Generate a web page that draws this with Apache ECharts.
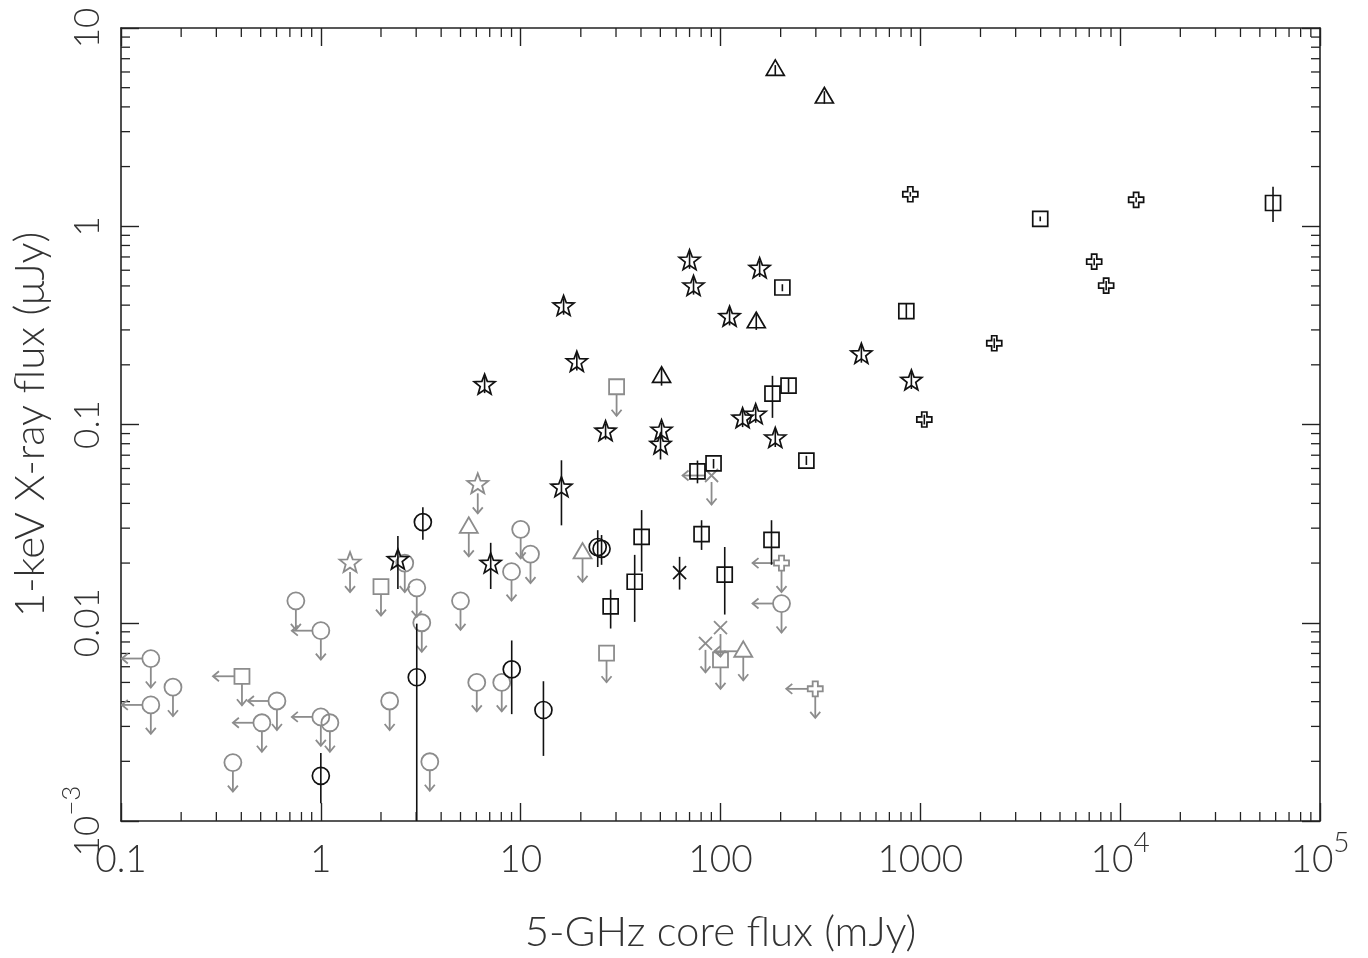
<!DOCTYPE html>
<html><head><meta charset="utf-8">
<script src="https://cdn.jsdelivr.net/npm/echarts@6/dist/echarts.min.js"></script>
<style>html,body{margin:0;padding:0;background:#fff}#c{width:1368px;height:958px}</style>
</head><body><div id="c"></div>
<script>
// ---- axis tick labels ----
const xTicks = [0.1, 1, 10, 100, 1000, 1e4, 1e5];
const xTickLabels = ['{b|0.1}', '{b|1}', '{b|10}', '{b|100}', '{b|1000}', '{b|10}{sup|4}', '{b|10}{sup|5}'];
const yTicks = [0.001, 0.01, 0.1, 1, 10];
const yTickLabels = ['{b|10}{sup|\u22123}', '{b|0.01}', '{b|0.1}', '{b|1}', '{b|10}'];
const minorMantissas = [2, 3, 4, 5, 6, 7, 8, 9];
const xDecades = [0.1, 1, 10, 100, 1000, 1e4];
const yDecades = [0.001, 0.01, 0.1, 1];

// ---- detections: [core flux mJy, X-ray flux uJy, yLow, yHigh] ----
const blackStars = [
  [16.4, 0.394, 0.358, 0.433], [19.1, 0.206, 0.187, 0.227], [6.6, 0.158, 0.144, 0.174],
  [70, 0.67, 0.61, 0.74], [73.3, 0.497, 0.452, 0.547], [157, 0.61, 0.555, 0.67],
  [111, 0.348, 0.316, 0.383], [26.6, 0.092, 0.084, 0.101], [50.7, 0.093, 0.085, 0.102],
  [50.1, 0.079, 0.0666, 0.091], [129, 0.107, 0.097, 0.118], [150, 0.112, 0.102, 0.123],
  [188, 0.085, 0.077, 0.094], [507, 0.226, 0.205, 0.249], [902, 0.166, 0.151, 0.183],
  [16.0, 0.048, 0.031, 0.066], [2.43, 0.0207, 0.0148, 0.0274], [7.08, 0.0198, 0.0148, 0.0253]
];
const blackTriangles = [
  [188, 6.15, 5.8, 6.5], [331, 4.46, 4.15, 4.8], [151, 0.328, 0.30, 0.36], [50.7, 0.174, 0.157, 0.193]
];
const blackCircles = [
  [3.24, 0.0322, 0.0262, 0.0383], [24.3, 0.0241, 0.0191, 0.0293], [25.4, 0.0236, 0.0196, 0.0277],
  [3.02, 0.00531, 0.001, 0.0099], [9.02, 0.00582, 0.00346, 0.00814], [13.0, 0.00363, 0.00213, 0.00507],
  [1.0, 0.00169, 0.00123, 0.0022]
];
const blackSquares = [
  [204, 0.491, 0.47, 0.51], [851, 0.373, 0.34, 0.41], [3981, 1.09, 1.06, 1.12],
  [58200, 1.31, 1.05, 1.58], [219, 0.157, 0.145, 0.17], [182, 0.143, 0.108, 0.176],
  [269, 0.0658, 0.0625, 0.0695], [92.3, 0.0636, 0.060, 0.067], [76.7, 0.058, 0.0505, 0.0658],
  [40.3, 0.0271, 0.0181, 0.037], [37.2, 0.0161, 0.0101, 0.022], [28.2, 0.0121, 0.00935, 0.0147],
  [80.4, 0.028, 0.0233, 0.0329], [180, 0.0262, 0.0196, 0.0329], [105, 0.0175, 0.011, 0.0241]
];
const blackCrossesX = [[62.4, 0.0179, 0.0147, 0.0215]];
const blackPluses = [
  [891, 1.45, 1.41, 1.49], [12020, 1.36, 1.32, 1.40], [7413, 0.663, 0.635, 0.69],
  [8510, 0.502, 0.475, 0.53], [2344, 0.257, 0.243, 0.272], [1047, 0.106, 0.10, 0.112]
];

// ---- upper limits: [core flux, X-ray flux, also upper limit in core flux (1/0)] ----
const grayCircles = [
  [0.141, 0.0066, 1], [0.141, 0.00385, 1], [0.182, 0.00473, 0], [0.363, 0.00197, 0],
  [0.507, 0.00313, 1], [0.603, 0.00403, 1], [0.75, 0.0129, 0], [1.0, 0.00912, 1],
  [1.0, 0.00335, 1], [1.11, 0.00313, 0], [2.21, 0.00403, 0], [2.63, 0.020, 0],
  [3.02, 0.0150, 0], [3.2, 0.0100, 0], [3.51, 0.00199, 0], [5.0, 0.0129, 0],
  [6.03, 0.0050, 0], [8.04, 0.0050, 0], [9.0, 0.0181, 0], [10, 0.0296, 0],
  [11.2, 0.0222, 0], [202, 0.0125, 1]
];
const graySquares = [
  [0.403, 0.00537, 1], [2.0, 0.0152, 0], [30.2, 0.155, 0], [26.9, 0.00702, 0], [100, 0.0065, 0]
];
const grayCrossesX = [[90.2, 0.0553, 1], [100, 0.00946, 0], [84.1, 0.00787, 0]];
const grayTriangles = [[5.5, 0.0303, 0], [20.4, 0.0225, 0], [130, 0.00718, 1]];
const grayStars = [[1.40, 0.020, 0], [6.1, 0.0499, 0]];
const grayPluses = [[202, 0.020, 1], [298, 0.00464, 1]];

const BLACK = '#111';
const GRAY = '#8c8c8c';
const FONT = 'Lato';
const TXT = '#333';

function starPoints(cx, cy, ro, ri) {
  const pts = [];
  for (let i = 0; i < 10; i++) {
    const a = -Math.PI / 2 + i * Math.PI / 5;
    const r = i % 2 ? ri : ro;
    pts.push([cx + r * Math.cos(a), cy + r * Math.sin(a)]);
  }
  return pts;
}
function plusPoints(cx, cy, a, b) {
  const p = [[-b,-a],[b,-a],[b,-b],[a,-b],[a,b],[b,b],[b,a],[-b,a],[-b,b],[-a,b],[-a,-b],[-b,-b]];
  return p.map(q => [cx + q[0], cy + q[1]]);
}
const EDGE = {circle: 8.5, square: 7.5, triangle: 5.5, star: 9, plus: 7.5, x: 6.5};
const LEDGE = {circle: 8.5, square: 7.5, triangle: 6, star: 8, plus: 7.5, x: 6.5};

function marker(shape, cx, cy, color, lw) {
  const st = {fill: 'none', stroke: color, lineWidth: lw};
  switch (shape) {
    case 'circle': return {type: 'circle', shape: {cx, cy, r: 8.5}, style: st};
    case 'square': return {type: 'rect', shape: {x: cx - 7.5, y: cy - 7.5, width: 15, height: 15}, style: st};
    case 'triangle': return {type: 'polygon', shape: {points: [[cx, cy - 10], [cx - 9, cy + 5.5], [cx + 9, cy + 5.5]]}, style: st};
    case 'star': return {type: 'polygon', shape: {points: starPoints(cx, cy, 11, 4.6)}, style: st};
    case 'plus': return {type: 'polygon', shape: {points: plusPoints(cx, cy, 7.5, 2.6)}, style: st};
    case 'x': return {type: 'group', children: [
      {type: 'line', shape: {x1: cx - 6.5, y1: cy - 6.5, x2: cx + 6.5, y2: cy + 6.5}, style: st},
      {type: 'line', shape: {x1: cx - 6.5, y1: cy + 6.5, x2: cx + 6.5, y2: cy - 6.5}, style: st}]};
  }
}

function detSeries(data, shape) {
  return {
    type: 'custom', coordinateSystem: 'cartesian2d', data: data, silent: true, clip: false,
    encode: {x: 0, y: 1},
    renderItem: function (params, api) {
      const x = api.value(0);
      const p = api.coord([x, api.value(1)]);
      const a = api.coord([x, api.value(2)]);
      const b = api.coord([x, api.value(3)]);
      return {type: 'group', children: [
        {type: 'line', shape: {x1: p[0], y1: a[1], x2: p[0], y2: b[1]}, style: {stroke: BLACK, lineWidth: 1.6}},
        marker(shape, p[0], p[1], BLACK, 1.7)
      ]};
    }
  };
}

function limSeries(data, shape) {
  return {
    type: 'custom', coordinateSystem: 'cartesian2d', data: data, silent: true, clip: false,
    encode: {x: 0, y: 1},
    renderItem: function (params, api) {
      const p = api.coord([api.value(0), api.value(1)]);
      const cx = p[0], cy = p[1];
      const st = {stroke: GRAY, lineWidth: 1.8, fill: 'none'};
      const ch = [];
      const e = EDGE[shape];
      ch.push({type: 'line', shape: {x1: cx, y1: cy + e, x2: cx, y2: cy + 29}, style: st});
      ch.push({type: 'polyline', shape: {points: [[cx - 5, cy + 23], [cx, cy + 29], [cx + 5, cy + 23]]}, style: st});
      if (api.value(2)) {
        const le = LEDGE[shape];
        ch.push({type: 'line', shape: {x1: cx - le, y1: cy, x2: cx - 29, y2: cy}, style: st});
        ch.push({type: 'polyline', shape: {points: [[cx - 23, cy - 5], [cx - 29, cy], [cx - 23, cy + 5]]}, style: st});
      }
      ch.push(marker(shape, cx, cy, GRAY, 1.8));
      return {type: 'group', children: ch};
    }
  };
}

const minorX = [];
xDecades.forEach(d => minorMantissas.forEach(m => minorX.push([d * m, 1])));
const minorY = [];
yDecades.forEach(d => minorMantissas.forEach(m => minorY.push([1, d * m])));

function minorXSeries() {
  return {type: 'custom', coordinateSystem: 'cartesian2d', data: minorX, silent: true, clip: false,
    encode: {x: 0, y: 1},
    renderItem: function (params, api) {
      const cs = params.coordSys;
      const px = api.coord([api.value(0), 1])[0];
      const st = {stroke: '#222', lineWidth: 1.3};
      return {type: 'group', children: [
        {type: 'line', shape: {x1: px, y1: cs.y + cs.height, x2: px, y2: cs.y + cs.height - 9}, style: st},
        {type: 'line', shape: {x1: px, y1: cs.y, x2: px, y2: cs.y + 9}, style: st}]};
    }};
}
function minorYSeries() {
  return {type: 'custom', coordinateSystem: 'cartesian2d', data: minorY, silent: true, clip: false,
    encode: {x: 0, y: 1},
    renderItem: function (params, api) {
      const cs = params.coordSys;
      const py = api.coord([1, api.value(1)])[1];
      const st = {stroke: '#222', lineWidth: 1.3};
      return {type: 'group', children: [
        {type: 'line', shape: {x1: cs.x, y1: py, x2: cs.x + 9, y2: py}, style: st},
        {type: 'line', shape: {x1: cs.x + cs.width, y1: py, x2: cs.x + cs.width - 9, y2: py}, style: st}]};
    }};
}

function labelFor(ticks, labels) {
  return function (v) {
    for (let i = 0; i < ticks.length; i++) {
      if (Math.abs(Math.log10(v) - Math.log10(ticks[i])) < 1e-6) return labels[i];
    }
    return '';
  };
}

const axisLineStyle = {color: '#222', width: 1.6};
const tickStyle = {color: '#222', width: 1.4};

const chart = echarts.init(document.getElementById('c'), null, {renderer: 'canvas'});
chart.setOption({
  animation: false,
  backgroundColor: '#fff',
  grid: {left: 121, right: 48, top: 28, bottom: 133},
  xAxis: [{
    type: 'log', logBase: 10, min: 0.1, max: 1e5, position: 'bottom',
    axisLine: {show: true, onZero: false, lineStyle: axisLineStyle},
    axisTick: {show: true, inside: true, length: 18, lineStyle: tickStyle},
    splitLine: {show: false},
    axisLabel: {show: true, margin: 8, color: TXT,
      formatter: labelFor(xTicks, xTickLabels),
      rich: {
        b: {fontSize: 37, fontFamily: FONT, fontWeight: 300, color: TXT, lineHeight: 50, verticalAlign: 'bottom'},
        sup: {fontSize: 28, fontFamily: FONT, fontWeight: 300, color: TXT, lineHeight: 28, verticalAlign: 'top'}}},
    name: '5-GHz core flux (mJy)', nameLocation: 'middle', nameGap: 90,
    nameTextStyle: {fontFamily: FONT, fontWeight: 300, fontSize: 42, color: TXT}
  }, {
    type: 'log', logBase: 10, min: 0.1, max: 1e5, position: 'top',
    axisLine: {show: true, onZero: false, lineStyle: axisLineStyle},
    axisTick: {show: true, inside: true, length: 18, lineStyle: tickStyle},
    splitLine: {show: false}, axisLabel: {show: false}
  }],
  yAxis: [{
    type: 'log', logBase: 10, min: 0.001, max: 10, position: 'left',
    axisLine: {show: true, onZero: false, lineStyle: axisLineStyle},
    axisTick: {show: true, inside: true, length: 18, lineStyle: tickStyle},
    splitLine: {show: false},
    axisLabel: {show: true, rotate: 90, margin: 16, color: TXT,
      formatter: labelFor(yTicks, yTickLabels),
      rich: {
        b: {fontSize: 35, fontFamily: FONT, fontWeight: 300, color: TXT, lineHeight: 46, verticalAlign: 'bottom'},
        sup: {fontSize: 26, fontFamily: FONT, fontWeight: 300, color: TXT, lineHeight: 26, verticalAlign: 'top'}}},
    name: '1-keV X-ray flux (\u03bcJy)', nameLocation: 'middle', nameGap: 66,
    nameTextStyle: {fontFamily: FONT, fontWeight: 300, fontSize: 42, color: TXT}
  }, {
    type: 'log', logBase: 10, min: 0.001, max: 10, position: 'right',
    axisLine: {show: true, onZero: false, lineStyle: axisLineStyle},
    axisTick: {show: true, inside: true, length: 18, lineStyle: tickStyle},
    splitLine: {show: false}, axisLabel: {show: false}
  }],
  series: [
    minorXSeries(), minorYSeries(),
    limSeries(grayCircles, 'circle'), limSeries(graySquares, 'square'), limSeries(grayCrossesX, 'x'),
    limSeries(grayTriangles, 'triangle'), limSeries(grayStars, 'star'), limSeries(grayPluses, 'plus'),
    detSeries(blackCircles, 'circle'), detSeries(blackSquares, 'square'), detSeries(blackStars, 'star'),
    detSeries(blackTriangles, 'triangle'), detSeries(blackPluses, 'plus'), detSeries(blackCrossesX, 'x')
  ]
});
</script>
</body></html>
